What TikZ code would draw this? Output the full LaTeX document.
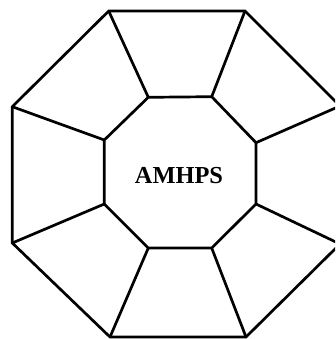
\documentclass[tikz,border=0pt]{standalone}
\usepackage{fontspec}
\setmainfont{Liberation Serif}
\tikzset{edge/.style={line width=2.7pt,line join=miter,line cap=butt,black},
  label/.style={font=\fontsize{24.4}{26}\selectfont\bfseries,inner sep=0pt,anchor=base}}
\begin{document}
\begin{tikzpicture}[x=1pt,y=-1pt]
\useasboundingbox (0,0) rectangle (335,339);
\clip (0,0) rectangle (335,339);
\coordinate (O1) at (108.7,11);
\coordinate (O2) at (245,11);
\coordinate (O3) at (340,106);
\coordinate (O4) at (340,244);
\coordinate (O5) at (246,337);
\coordinate (O6) at (110,337);
\coordinate (O7) at (12.3,243);
\coordinate (O8) at (12.3,106.7);
\coordinate (I1) at (148.3,97.3);
\coordinate (I2) at (211.7,96.7);
\coordinate (I3) at (256,142.7);
\coordinate (I4) at (256,204);
\coordinate (I5) at (211.7,248);
\coordinate (I6) at (148.3,248);
\coordinate (I7) at (104.3,204);
\coordinate (I8) at (104.3,140);
\draw[edge] (O1)--(O2)--(O3)--(O4)--(O5)--(O6)--(O7)--(O8)--cycle;
\draw[edge] (I1)--(I2)--(I3)--(I4)--(I5)--(I6)--(I7)--(I8)--cycle;
\foreach \i in {1,...,8} \draw[edge] (O\i)--(I\i);
\node[label] (t) at (179,183.3) {AMHPS};
\end{tikzpicture}
\end{document}
